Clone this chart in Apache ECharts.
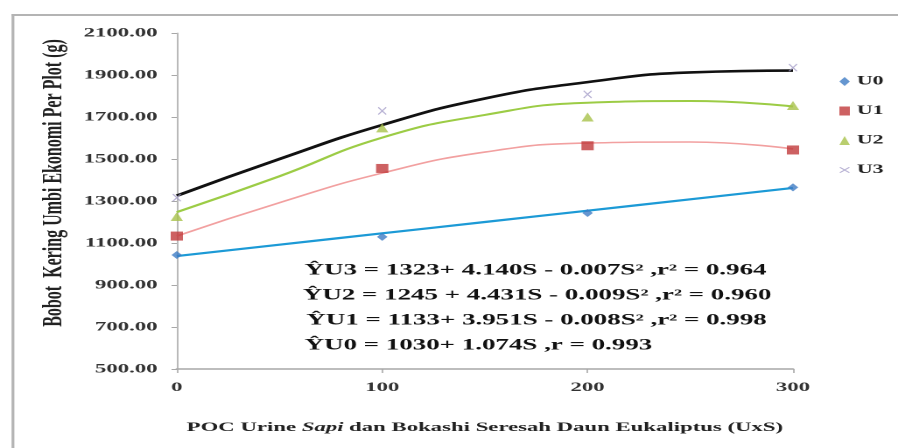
<!DOCTYPE html>
<html><head><meta charset="utf-8">
<script src="https://cdn.jsdelivr.net/npm/echarts@6/dist/echarts.min.js"></script>
<style>
html,body{margin:0;padding:0;background:#fff;overflow:hidden;width:898px;height:448px}
#c{position:absolute;left:0;top:0;width:513px;height:448px;transform:scaleX(1.7505);transform-origin:0 0}
</style>
</head><body><div id="c"></div>
<script>
var xLevels = [0, 100, 200, 300];
var U0 = [1043, 1129, 1243, 1365];
var U1 = [1133, 1455, 1563, 1543];
var U2 = [1226, 1648, 1700, 1755];
var U3 = [1316, 1729, 1808, 1935];
var trendS = [0, 50, 100, 150, 200, 250, 300];
var trendU0 = [1038, 1092, 1146, 1200, 1254, 1308, 1362];
var trendU1 = [1133, 1292, 1433, 1533, 1576, 1581, 1548];
var trendU2 = [1247, 1418, 1602, 1710, 1768, 1776, 1750];
var trendU3 = [1325, 1500, 1662, 1788, 1866, 1912, 1921];
var equations = [
  'ŶU3 = 1323+ 4.140S - 0.007S² ,r² = 0.964',
  'ŶU2 = 1245 + 4.431S - 0.009S² ,r² = 0.960',
  'ŶU1 = 1133+ 3.951S - 0.008S² ,r² = 0.998',
  'ŶU0 = 1030+ 1.074S ,r = 0.993'
];
var names = ['U0', 'U1', 'U2', 'U3'];
var yTitle = 'Bobot  Kering Umbi Ekonomi Per Plot (g)';

function pairs(xs, ys) { return xs.map(function (x, i) { return [x, ys[i]]; }); }
var F = '"Liberation Serif", "DejaVu Serif", serif';
var crossPath = 'path://M0,1L1,0L5,4L9,0L10,1L6,5L10,9L9,10L5,6L1,10L0,9L4,5Z';

var chart = echarts.init(document.getElementById('c'), null, {devicePixelRatio: 2});
var trendSeries = [
  {d: trendU0, c: '#1c9ad6', w: 2.2},
  {d: trendU1, c: '#f2a0a0', w: 1.6},
  {d: trendU2, c: '#9ccc45', w: 2},
  {d: trendU3, c: '#111111', w: 2.6}
].map(function (t, i) {
  return {
    name: names[i] + ' trend', type: 'line', smooth: true, showSymbol: false,
    data: pairs(trendS, t.d), lineStyle: {color: t.c, width: t.w}, itemStyle: {color: t.c},
    z: 2, silent: true
  };
});
var scatterStyles = [
  {sym: 'diamond', size: [6, 8], c: '#3f7cc4'},
  {sym: 'rect', size: [7, 9], c: '#c0393b'},
  {sym: 'triangle', size: [7, 9], c: '#a8c24a'},
  {sym: crossPath, size: [5, 8], c: '#a49cc8'}
];
var pointData = [U0, U1, U2, U3];
var scatterSeries = scatterStyles.map(function (s, i) {
  return {
    name: names[i], type: 'scatter', symbol: s.sym, symbolSize: s.size,
    data: pairs(xLevels, pointData[i]), itemStyle: {color: s.c}, z: 3
  };
});

var eqLeft = [174, 173, 175, 174];
var gfx = equations.map(function (t, i) {
  return {
    type: 'text', left: eqLeft[i], top: 263 + i * 25,
    style: {text: t, font: 'bold 15.4px ' + F, fill: '#111'}
  };
});
gfx.push({
  type: 'text', x: 31, y: 183, rotation: Math.PI / 2,
  style: {text: yTitle, font: 'bold 16px ' + F, fill: '#222', textAlign: 'center', textVerticalAlign: 'middle'}
});
gfx.push({
  type: 'rect', left: 6.6, top: 14, silent: true, z: 10,
  shape: {width: 1.6, height: 440},
  style: {fill: '#b4b4b4'}
});
gfx.push({
  type: 'rect', left: 6.6, top: 14, silent: true, z: 10,
  shape: {width: 510, height: 2},
  style: {fill: '#b4b4b4'}
});

chart.setOption({
  animation: false,
  backgroundColor: '#fff',
  grid: {left: 101, right: 60, top: 33, bottom: 79},
  legend: {
    data: names, orient: 'vertical', left: 474.5, top: 70, itemGap: 16.5,
    itemWidth: 6, itemHeight: 9,
    textStyle: {fontFamily: F, fontWeight: 'bold', fontSize: 12.5, color: '#222', padding: [0, 0, 0, -1]}
  },
  xAxis: {
    type: 'value', min: 0, max: 300, interval: 100,
    name: '{a|POC Urine }{b|Sapi}{a| dan Bokashi Seresah Daun Eukaliptus (UxS)}',
    nameLocation: 'middle', nameGap: 52,
    nameTextStyle: {rich: {
      a: {fontFamily: F, fontWeight: 'bold', fontSize: 13, color: '#222'},
      b: {fontFamily: F, fontWeight: 'bold', fontStyle: 'italic', fontSize: 13, color: '#222'}
    }},
    axisLine: {lineStyle: {color: '#a8a8a8', width: 1.5}},
    axisTick: {show: true, length: 4, lineStyle: {color: '#a8a8a8', width: 0.8}},
    axisLabel: {fontFamily: F, fontWeight: 'bold', fontSize: 13, color: '#333', margin: 12},
    splitLine: {show: false}
  },
  yAxis: {
    type: 'value', min: 500, max: 2100, interval: 200,
    axisLine: {show: true, lineStyle: {color: '#a8a8a8', width: 0.8}},
    axisTick: {show: true, length: 3, lineStyle: {color: '#a8a8a8', width: 1}},
    axisLabel: {fontFamily: F, fontWeight: 'bold', fontSize: 13, color: '#333', margin: 11,
      formatter: function (v) { return v.toFixed(2); }},
    splitLine: {show: false}
  },
  graphic: gfx,
  series: trendSeries.concat(scatterSeries)
});
</script>
</body></html>
